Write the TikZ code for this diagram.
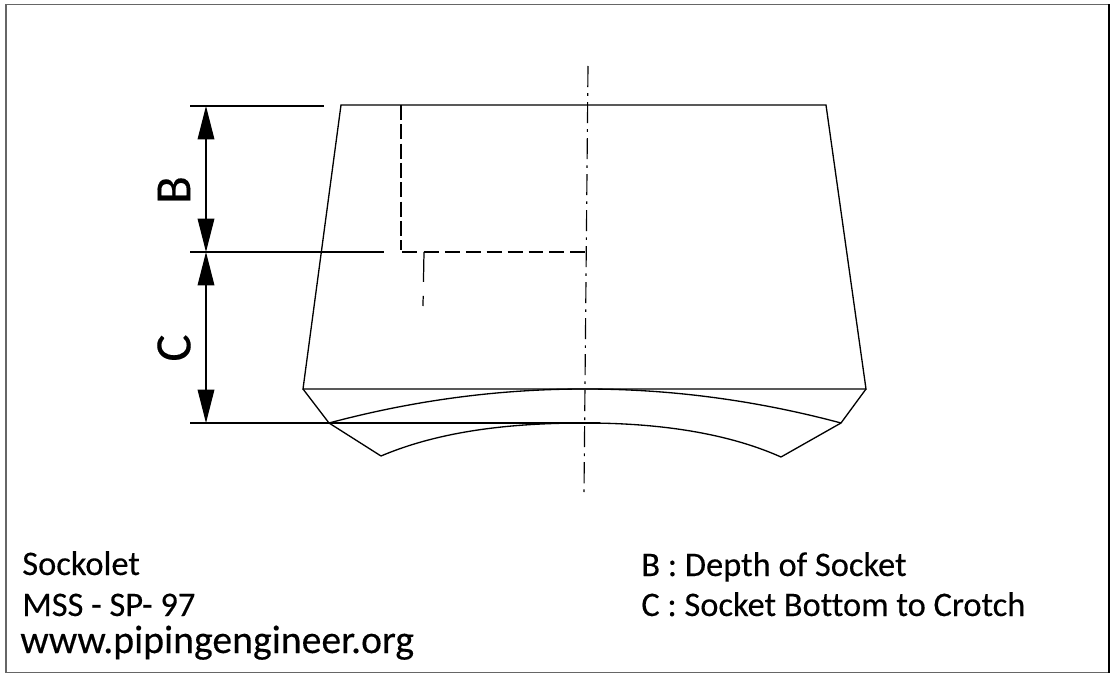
\documentclass[tikz,border=0pt]{standalone}
\usepackage{fontspec}
\setmainfont{Carlito}[FakeBold=0.25, Ligatures=NoCommon]
\usetikzlibrary{calc, arrows.meta}

\tikzset{
  outline/.style={draw=black, line width=0.75pt},
  hidden/.style={draw=black, line width=0.7pt, dash pattern=on 8.5pt off 2.5pt},
  hiddenshort/.style={draw=black, line width=0.7pt, dash pattern=on 8.5pt off 3.4pt},
  centre/.style={draw=black, line width=0.65pt, dash pattern=on 12pt off 3.5pt on 1.5pt off 3.5pt},
  dimline/.style={draw=black, line width=0.7pt, {Triangle[length=19pt, width=9.5pt]}-{Triangle[length=19pt, width=9.5pt]}},
  caption/.style={anchor=base west, inner sep=0pt, font=\fontsize{19.6pt}{21pt}\selectfont},
  dimlabel/.style={inner sep=0pt, rotate=90, font=\fontsize{29pt}{31pt}\selectfont},
}

\begin{document}
\begin{tikzpicture}[x=0.02cm, y=-0.02cm]
  \useasboundingbox (0,0) rectangle (1113,679);

  % frame
  \draw[draw=black!60, line width=0.8pt] (1109,4.5) to (6,4.5) to (6,672.5) to (1109,672.5);
  \draw[draw=black, line width=0.6pt] (1109,4.5) to (1109,672.5);

  \coordinate (top-left)     at (341,105);
  \coordinate (top-right)    at (826,105);
  \coordinate (base-left)    at (303,389);
  \coordinate (base-right)   at (866,389);
  \coordinate (crotch-left)  at (329,423);
  \coordinate (crotch-right) at (841,423);
  \coordinate (tip-left)     at (381,456);
  \coordinate (tip-right)    at (781,457);
  \coordinate (axis-top)     at (588,66);
  \coordinate (axis-bot)     at (584,492);

  % body
  \draw[outline] (top-left) to (top-right) to (base-right) to (base-left) to cycle;
  \draw[outline] (base-left) to (crotch-left) to (tip-left);
  \draw[outline] (base-right) to (crotch-right) to (tip-right);

  % saddle curves
  \draw[outline] (crotch-left) .. controls (415,400) and (500,389) .. (585,389)
    .. controls (670,389) and (755,400) .. (crotch-right);
  \draw[outline] (tip-left) .. controls (440,431) and (510,423) .. (585,423)
    .. controls (655,423) and (725,432) .. (tip-right);

  % socket, hidden lines
  \coordinate (socket-top)   at (401,105);
  \coordinate (socket-bot)   at (401,250);
  \coordinate (socket-a)     at (402,252);
  \coordinate (socket-b)     at (418,252);
  \coordinate (socket-axis)  at (586,252);
  \coordinate (bore-top)     at (424,252);
  \coordinate (bore-bot)     at (423,306);
  \draw[hidden] (socket-top) to (socket-bot);
  \draw[hiddenshort] (socket-a) to (socket-b);
  \draw[hiddenshort] (bore-top) to (socket-axis);
  \draw[draw=black, line width=0.7pt, dash pattern=on 17pt off 8pt] (bore-top) to (bore-bot);

  \draw[centre] (axis-top) to (axis-bot);

  % extension lines
  \coordinate (ext-b-a)  at (190,106);
  \coordinate (ext-b-b)  at (324,106);
  \coordinate (ext-m-a)  at (190,252);
  \coordinate (ext-m-b)  at (384,252);
  \coordinate (ext-c-a)  at (190,423);
  \coordinate (ext-c-b)  at (600,423);
  \draw[outline] (ext-b-a) to (ext-b-b);
  \draw[outline] (ext-m-a) to (ext-m-b);
  \draw[outline] (ext-c-a) to (ext-c-b);

  % dimensions
  \coordinate (dim-top) at (206,106);
  \coordinate (dim-mid) at (206,252);
  \coordinate (dim-bot) at (206,423);
  \draw[dimline] (dim-top) to (dim-mid);
  \draw[dimline] (dim-mid) to (dim-bot);
  \node[dimlabel] (label-b) at (174,190) {B};
  \node[dimlabel] (label-c) at (174,348) {C};

  % captions
  \node[caption] (name)  at (22,575) {Sockolet};
  \node[caption] (code)  at (22,616) {MSS - SP- 97};
  \node[caption, font=\fontsize{22.6pt}{24pt}\selectfont] (site) at (20,653) {www.pipingengineer.org};
  \node[caption] (key-b) at (641,576) {B : Depth of Socket};
  \node[caption] (key-c) at (641,616) {C : Socket Bottom to Crotch};
\end{tikzpicture}
\end{document}
